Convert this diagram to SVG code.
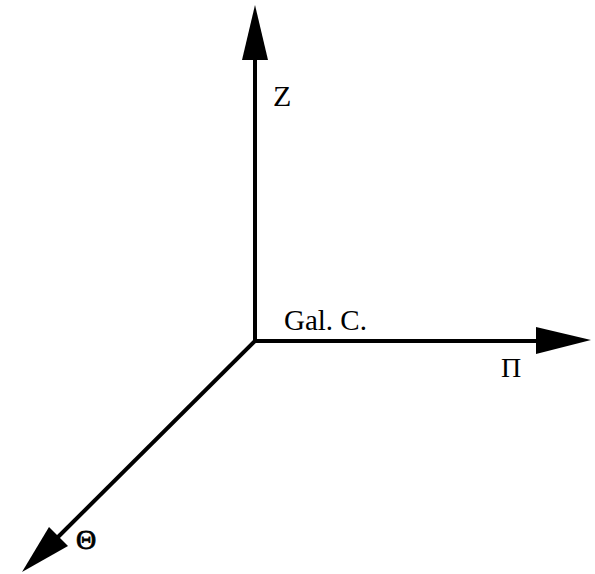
<svg xmlns="http://www.w3.org/2000/svg" width="595" height="574" viewBox="0 0 595 574">
<style>
.ax{stroke:#000;stroke-width:4;fill:none}
.hd{fill:#000}
text{font-family:"Liberation Serif","Times New Roman",serif;fill:#000}
</style>
<rect width="595" height="574" fill="#fff"/>
<g id="connectors">
<line class="ax" x1="255" y1="343" x2="255" y2="58"/>
<polygon class="hd" points="255,5 242,60 268,60"/>
<line class="ax" x1="253" y1="341" x2="540" y2="341"/>
<polygon class="hd" points="591,340 536,327 536,354"/>
<line class="ax" x1="256" y1="340" x2="58" y2="537"/>
<polygon class="hd" points="22,572 49,527 68,546"/>
</g>
<g id="z"><text x="273" y="106" font-size="30">Z</text></g>
<g id="galc"><text x="284" y="330" font-size="29">Gal. C.</text></g>
<g id="pi"><text x="501" y="377" font-size="28">Π</text></g>
<g id="theta"><text x="76" y="549" font-size="28" font-family="Liberation Sans,Arial,sans-serif" stroke="#000" stroke-width="0.8">Θ</text></g>
</svg>
